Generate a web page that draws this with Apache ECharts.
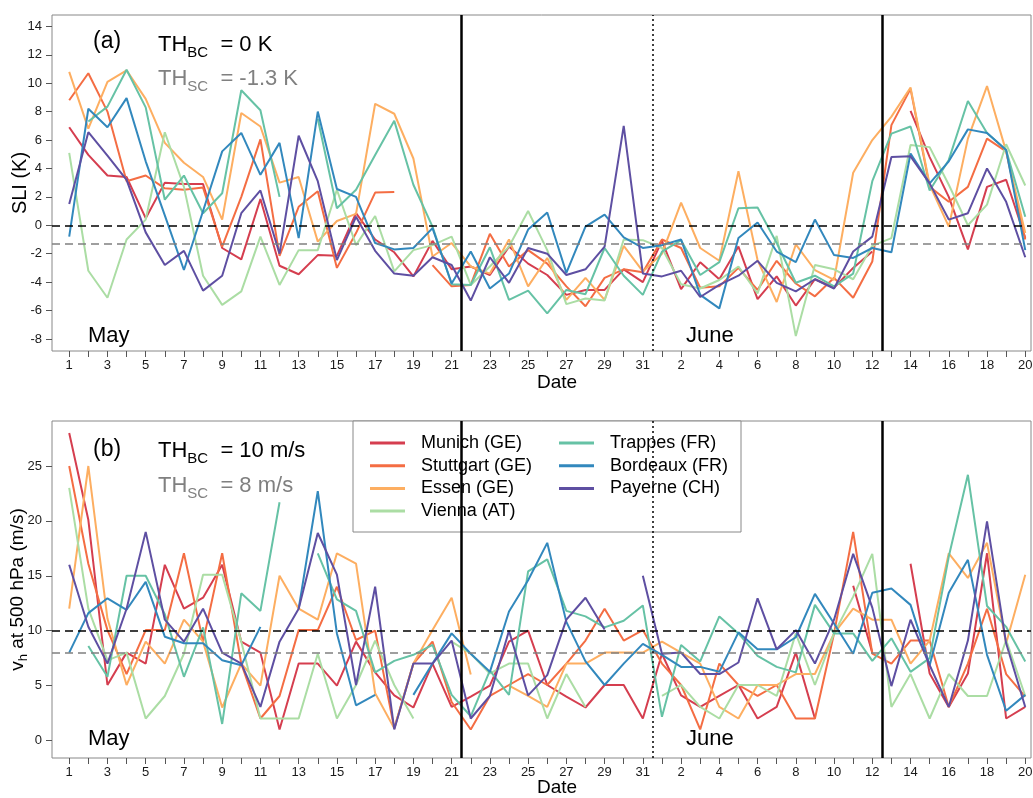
<!DOCTYPE html>
<html>
<head>
<meta charset="utf-8">
<script src="https://cdn.jsdelivr.net/npm/echarts@6/dist/echarts.min.js"></script>
<style>
  html, body { margin: 0; padding: 0; background: #fff; }
  #chart { width: 1033px; height: 798px; }
</style>
</head>
<body>
<div id="chart"></div>
<script>
// day labels: May 1..31, June 1..20
const days = ['1','2','3','4','5','6','7','8','9','10','11','12','13','14','15','16','17','18','19','20',
  '21','22','23','24','25','26','27','28','29','30','31',
  '1','2','3','4','5','6','7','8','9','10','11','12','13','14','15','16','17','18','19','20'];

const stations = ['Munich (GE)', 'Stuttgart (GE)', 'Essen (GE)', 'Vienna (AT)', 'Trappes (FR)', 'Bordeaux (FR)', 'Payerne (CH)'];
const colors = ['#d53e4f', '#f46d43', '#fdae61', '#abdda4', '#66c2a5', '#3288bd', '#5e4fa2'];

// (a) SLI (K)
const sliMunich = [6.9, 4.95, 3.5, 3.4, 0.5, 3.0, 2.9, 2.9, -1.6, -2.4, 1.85, -2.85, -3.45, -2.1, -2.15, 0.85, -1.0, -1.9, -3.6, -1.1,
  -3.1, -2.9, -3.5, -1.5, -2.7, -3.5, -4.9, -4.55, -4.55, -3.1, -4.0,
  -1.1, -4.5, -2.6, -3.8, -1.5, -5.2, -3.6, -5.65, -3.8, -4.4, -3.0, -1.85, null, 8.05, 4.8, 2.0, -1.7, 2.7, 3.2, -0.9];
const sliStuttgart = [8.8, 10.7, 8.0, 3.1, 3.5, 2.6, 2.5, 2.65, -1.5, 2.0, 6.05, -2.15, 1.3, 2.4, -3.0, -0.55, 2.3, 2.35, null, -2.8,
  -4.3, -4.2, -0.6, -2.9, -1.75, -2.7, -4.3, -5.7, -3.7, -3.1, -3.3,
  -1.0, -1.6, -4.4, -4.3, -3.0, -4.55, -2.5, -4.1, -5.0, -3.7, -5.1, -2.55, 7.05, 9.6, 2.7, 1.65, 2.7, 6.1, 5.2, -1.0];
const sliEssen = [10.8, 6.8, 10.1, 10.9, 8.9, 5.8, 4.4, 3.4, 0.4, 7.9, 6.95, 3.0, 3.4, -1.15, 0.3, 0.8, 8.55, 7.85, 4.7, -2.2,
  -1.25, -2.9, -3.4, -1.0, -4.3, -2.3, -5.25, -3.7, -5.25, -1.45, -3.25,
  -2.0, 1.6, -1.6, -2.5, 3.8, -2.45, -5.4, -1.35, -3.15, -3.85, 3.7, 6.0, 7.65, 9.7, 2.85, -0.1, 6.1, 9.8, 5.2, -0.55];
const sliVienna = [5.1, -3.2, -5.1, -1.0, 0.4, 6.55, 2.7, -3.55, -5.6, -4.65, -0.8, -4.2, -1.75, -1.75, 2.5, -1.4, 0.65, -3.25, -1.75, -1.4,
  -0.8, -4.2, -2.9, -1.5, 1.0, -1.75, -5.55, -5.15, -5.3, -1.0, -1.05,
  -1.6, -4.15, -4.45, -3.85, -2.9, -4.8, -0.75, -7.8, -2.8, -3.1, -3.8, -1.45, -0.9, 5.65, 5.5, 2.85, 0.0, 1.45, 5.7, 2.8];
const sliTrappes = [null, 7.3, 8.35, 10.95, 8.3, 1.8, 3.5, 0.85, 2.25, 9.5, 8.1, 2.0, null, 7.5, 1.2, 2.5, 4.95, 7.35, 2.85, -0.1,
  -4.15, -4.2, -1.55, -5.25, -4.6, -6.2, -4.55, -4.85, -1.6, -3.55, -4.9,
  -1.85, -1.05, -3.5, -2.6, 1.2, 1.25, -1.25, -4.05, -3.55, -4.3, -3.4, 3.1, 6.45, 6.95, 2.45, 4.6, 8.75, 6.5, 5.3, 0.6];
const sliBordeaux = [-0.8, 8.2, 6.9, 8.95, 4.5, 0.7, -3.15, 1.0, 5.2, 6.5, 3.55, 5.8, -0.9, 8.0, 2.55, 2.0, -1.25, -1.7, -1.6, -0.2,
  -4.1, -1.85, -4.45, -3.4, -0.3, 0.9, -3.35, -0.1, 0.75, -0.85, -1.6,
  -1.4, -1.0, -4.9, -5.85, -0.9, 0.2, -1.85, -2.6, 0.4, -2.1, -2.3, -1.6, -1.9, 5.05, 2.95, 4.5, 6.75, 6.5, 5.3, -1.75];
const sliPayerne = [1.5, 6.55, 4.9, 3.2, -0.5, -2.8, -1.8, -4.6, -3.55, 0.85, 2.45, -2.0, 6.3, 3.1, -2.45, 0.6, -1.8, -3.4, -3.55, -2.25,
  -2.8, -5.3, -2.25, -4.05, -1.6, -2.0, -3.5, -3.1, -1.5, 7.0, -3.4,
  -3.6, -3.2, -5.05, -4.2, -3.55, -2.5, -4.05, -4.65, -3.8, -4.45, -1.85, -0.8, 4.8, 4.85, 2.95, 0.4, 0.85, 4.0, 1.65, -2.25];

// (b) vh at 500 hPa (m/s)
const vhMunich = [28.0, 20.1, 5.05, 8.0, 7.0, 16.0, 12.0, 13.0, 16.0, 9.0, 8.0, 1.0, 7.0, 7.0, 5.0, 9.0, 6.2, 4.1, 3.0, 7.0,
  3.05, 4.0, 5.0, 9.0, 10.0, 5.05, 4.0, 3.0, 5.05, 5.05, 2.0,
  7.9, 4.1, 3.05, 4.05, 5.05, 2.0, 3.05, 8.0, 2.0, null, 14.1, 8.0, null, 16.1, 6.1, 3.05, 6.1, 17.05, 2.0, 3.05];
const vhStuttgart = [25.0, 16.1, 10.05, 6.05, 10.05, 10.05, 17.05, 9.0, 17.05, 7.0, 2.0, 4.05, 10.05, 10.05, 14.0, 9.15, 10.0, 1.1, 7.0, 9.0,
  3.5, 1.0, 4.05, 5.05, 6.05, 5.05, 7.0, 9.1, 12.0, 9.1, 10.05,
  7.0, 5.05, 1.0, 7.0, 5.05, 4.05, 5.05, 2.0, 2.0, 9.75, 19.0, 7.9, 7.0, 9.1, 9.1, 3.05, 7.0, 12.0, 6.05, 4.0];
const vhEssen = [12.0, 25.0, 11.1, 5.05, 9.0, 7.0, 11.0, 9.0, 3.0, 7.0, 5.0, 15.0, 12.0, 11.0, 17.05, 16.1, 4.3, 1.1, 7.0, 10.05,
  13.0, 6.0, null, 5.0, 4.05, 3.05, 7.0, 7.0, 8.0, 8.0, 8.0,
  9.0, 8.0, 7.0, 3.05, 2.0, 5.05, 5.05, 6.05, 6.05, 9.75, 12.0, 11.0, 11.0, 7.0, 9.1, 17.05, 14.8, 18.0, 8.85, 15.1];
const vhVienna = [23.0, 12.0, 7.3, 8.0, 2.0, 4.05, 7.9, 15.1, 15.1, 9.0, 2.0, 2.0, 2.0, 7.9, 2.0, 5.05, 9.1, 5.05, 2.0, null,
  9.0, 7.9, 6.1, 7.0, 7.0, 2.0, 6.05, 3.05, null, null, null,
  4.05, 5.05, 3.05, 2.0, 5.05, 5.05, 4.05, 9.75, 5.05, 9.75, 13.1, 17.0, 3.05, 6.05, 2.0, 6.05, 4.05, 4.05, 9.15, 4.05];
const vhTrappes = [null, 8.6, 5.8, 15.0, 15.0, 11.5, 5.8, 10.3, 1.5, 13.4, 11.8, 21.7, null, 17.05, 12.85, 11.8, 6.2, 7.25, 7.8, 8.7,
  4.15, 2.2, 6.35, 4.15, 15.4, 16.5, 11.8, 11.3, 10.3, 10.9, 12.3,
  2.15, 8.7, 7.2, 11.3, 9.75, 7.7, 6.7, 6.2, 12.35, 9.75, 9.75, 7.25, 9.3, 6.25, 7.5, 16.75, 24.2, 12.25, 10.35, 7.2];
const vhBordeaux = [8.0, 11.6, 12.95, 11.9, 14.45, 9.45, 8.85, 8.85, 7.3, 6.85, 10.35, null, 12.0, 22.7, 9.75, 3.2, 4.15, null, 4.15, 7.0,
  9.75, 7.9, 6.25, 11.75, 14.6, 18.0, 10.8, 7.2, 5.05, 7.0, 8.8,
  7.8, 6.7, 6.7, 6.25, 9.85, 8.3, 8.3, 9.4, 13.35, 10.65, 7.9, 13.45, 13.85, 12.35, 6.85, 13.45, 16.45, 7.8, 2.7, 4.15];
const vhPayerne = [16.0, 10.35, 7.0, 12.0, 19.0, 11.0, 9.0, 12.0, 8.0, 7.0, 3.05, 9.0, 12.0, 18.9, 15.1, 5.05, 14.0, 1.0, 7.0, 7.0,
  9.1, 2.0, 4.05, 10.0, 4.1, 5.95, 11.0, 13.0, 10.1, null, 15.0,
  7.9, 8.0, 6.05, 6.05, 7.1, 12.95, 8.3, 10.05, 7.0, 11.0, 17.0, 12.1, 4.95, 11.0, 6.85, 3.05, 9.1, 19.95, 8.85, 3.05];

const sliTicks = [-8, -6, -4, -2, 0, 2, 4, 6, 8, 10, 12, 14];
const vhTicks = [0, 5, 10, 15, 20, 25];

const sliData = [sliMunich, sliStuttgart, sliEssen, sliVienna, sliTrappes, sliBordeaux, sliPayerne];
const vhData = [vhMunich, vhStuttgart, vhEssen, vhVienna, vhTrappes, vhBordeaux, vhPayerne];

const FONT = 'Liberation Sans';
const tickIdx = days.map((d, i) => i);
const labelIdx = tickIdx.filter(i => i % 2 === 0);

function xAxis(gridIndex) {
  return {
    type: 'value', gridIndex: gridIndex, min: -0.9, max: 50.3, position: 'bottom',
    axisLine: { show: false, onZero: false },
    splitLine: { show: false },
    axisTick: { show: true, length: 6, customValues: tickIdx, lineStyle: { color: '#555' } },
    axisLabel: { customValues: labelIdx, margin: 8, fontSize: 13, fontFamily: FONT, color: '#1a1a1a',
      formatter: v => days[Math.round(v)] }
  };
}

function yAxis(gridIndex, min, max, ticks, name, rich) {
  return {
    type: 'value', gridIndex: gridIndex, min: min, max: max, position: 'left',
    name: name, nameLocation: 'middle', nameGap: 22, nameMoveOverlap: false,
    nameTextStyle: { fontSize: 20, fontFamily: FONT, color: '#000', rich: rich },
    axisLine: { show: false, onZero: false },
    splitLine: { show: false },
    axisTick: { show: true, length: 6, customValues: ticks, lineStyle: { color: '#555' } },
    axisLabel: { customValues: ticks, margin: 10, fontSize: 13, fontFamily: FONT, color: '#1a1a1a' }
  };
}

function refLines(hBlack, hGray) {
  return {
    silent: true, symbol: 'none', label: { show: false }, animation: false,
    data: [
      { yAxis: hBlack, lineStyle: { color: '#000', width: 1.5, type: [8, 5] } },
      { yAxis: hGray, lineStyle: { color: '#808080', width: 1.5, type: [8, 5] } },
      { xAxis: 20.5, lineStyle: { color: '#000', width: 2.5, type: 'solid' } },
      { xAxis: 30.5, lineStyle: { color: '#000', width: 1.5, type: [2, 3] } },
      { xAxis: 42.5, lineStyle: { color: '#000', width: 2.5, type: 'solid' } }
    ]
  };
}

const series = [];
[sliData, vhData].forEach((set, g) => {
  set.forEach((arr, k) => {
    const s = {
      type: 'line', name: stations[k], xAxisIndex: g, yAxisIndex: g,
      data: arr.map((v, i) => [i, v == null ? '-' : v]),
      symbol: 'none', connectNulls: false,
      lineStyle: { width: 2, color: colors[k] },
      itemStyle: { color: colors[k] }
    };
    if (k === 0) s.markLine = g === 0 ? refLines(0, -1.3) : refLines(10, 8);
    series.push(s);
  });
});

const big = { fontSize: 22, fontWeight: 'normal', fontFamily: FONT, color: '#000', lineHeight: 30 };
const subS = { fontSize: 15, fontWeight: 'normal', fontFamily: FONT, color: '#000', lineHeight: 15, verticalAlign: 'bottom', padding: [15, 0, 0, 0] };
function thText(left, top, label, value, color) {
  return {
    left: left, top: top, padding: 0,
    text: '{m|TH}{s|' + label + '}{m|  = ' + value + '}',
    textStyle: { fontWeight: 'normal', rich: {
      m: Object.assign({}, big, { color: color }),
      s: Object.assign({}, subS, { color: color })
    } }
  };
}
function plain(left, top, text, size) {
  return { left: left, top: top, padding: 0, text: text,
    textStyle: { fontSize: size, fontWeight: 'normal', fontFamily: FONT, color: '#000' } };
}

const legendBase = {
  orient: 'vertical', top: 434, padding: 0, itemGap: 4.7,
  icon: 'rect', itemWidth: 35, itemHeight: 3, z: 5,
  textStyle: { fontSize: 18, lineHeight: 18, fontFamily: FONT, color: '#000', padding: [0, 0, 0, 11] }
};

const chart = echarts.init(document.getElementById('chart'));
chart.setOption({
  animation: false,
  backgroundColor: '#fff',
  color: colors,
  title: [
    plain(93, 30, '(a)', 23),
    thText(158, 30, 'BC', '0 K', '#000'),
    thText(158, 64, 'SC', '-1.3 K', '#808080'),
    plain(88, 325, 'May', 22),
    plain(686, 325, 'June', 22),
    plain(537, 373, 'Date', 19),
    plain(93, 438, '(b)', 23),
    thText(158, 436, 'BC', '10 m/s', '#000'),
    thText(158, 471, 'SC', '8 m/s', '#808080'),
    plain(88, 728, 'May', 22),
    plain(686, 728, 'June', 22),
    plain(537, 778, 'Date', 19)
  ],
  grid: [
    { left: 52, top: 15, width: 979, height: 336, outerBoundsMode: 'none', containLabel: false,
      show: true, borderColor: '#888', borderWidth: 1, backgroundColor: 'transparent' },
    { left: 52, top: 421, width: 979, height: 337, outerBoundsMode: 'none', containLabel: false,
      show: true, borderColor: '#888', borderWidth: 1, backgroundColor: 'transparent' }
  ],
  xAxis: [xAxis(0), xAxis(1)],
  yAxis: [
    yAxis(0, -8.85, 14.8, sliTicks, 'SLI (K)', {}),
    yAxis(1, -1.6, 29.1, vhTicks, '{n|v}{h|h}{n| at 500 hPa (m/s)}', {
      n: { fontSize: 19, fontFamily: FONT, color: '#000', lineHeight: 24 },
      h: { fontSize: 13, fontFamily: FONT, color: '#000', lineHeight: 13, verticalAlign: 'bottom', padding: [12, 0, 0, 0] }
    })
  ],
  legend: [
    Object.assign({ data: stations.slice(0, 4), left: 370 }, legendBase),
    Object.assign({ data: stations.slice(4), left: 559 }, legendBase)
  ],
  graphic: [
    { type: 'rect', z: 3, shape: { x: 353, y: 421, width: 388, height: 111 },
      style: { fill: '#fff', stroke: '#888', lineWidth: 1 } }
  ],
  series: series
});
</script>
</body>
</html>
